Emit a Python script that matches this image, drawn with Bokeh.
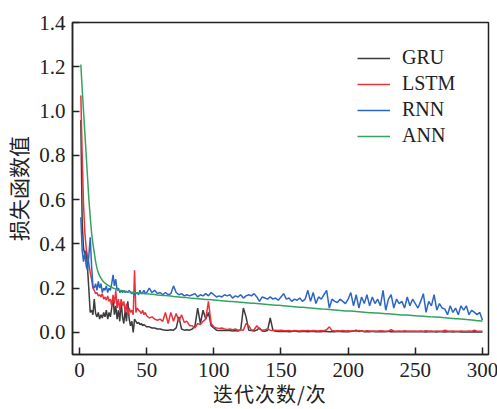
from bokeh.plotting import figure
from bokeh.models import Legend, LegendItem, FixedTicker, PrintfTickFormatter, Range1d, Div
from bokeh.layouts import column
from bokeh.embed import file_html
from bokeh.resources import INLINE

# iterations: every step for 1..50, every second step for 52..300
X_EARLY = list(range(1, 51))
X_LATE = list(range(52, 301, 2))
X = X_EARLY + X_LATE

GRU = [
    0.96, 0.50, 0.38, 0.35, 0.37, 0.29, 0.19, 0.09, 0.10, 0.08, 0.15, 0.085, 0.07, 0.09, 0.06, 0.08, 0.065, 0.09, 0.07, 0.10, 0.06, 0.09, 0.07, 0.11, 0.16,
    0.08, 0.12, 0.06, 0.10, 0.05, 0.14, 0.07, 0.04, 0.10, 0.05, 0.14, 0.06, 0.03, 0.05, 0.00, 0.06, 0.05, 0.04, 0.045, 0.035, 0.04, 0.03, 0.035, 0.03, 0.025,
    0.025, 0.02, 0.02, 0.015, 0.015, 0.012, 0.01, 0.01, 0.012, 0.01, 0.02, 0.07, 0.015, 0.01, 0.012, 0.01, 0.015, 0.03, 0.11, 0.04, 0.10, 0.06, 0.09, 0.03, 0.02,
    0.01, 0.008, 0.01, 0.008, 0.01, 0.008, 0.006, 0.008, 0.006, 0.01, 0.11, 0.07, 0.01, 0.008, 0.006, 0.01, 0.02, 0.006, 0.005, 0.008, 0.065, 0.01, 0.005, 0.004, 0.005,
    0.004, 0.005, 0.003, 0.004, 0.006, 0.004, 0.003, 0.005, 0.004, 0.003, 0.004, 0.005, 0.003, 0.004, 0.003, 0.005, 0.004, 0.003, 0.004, 0.003, 0.005, 0.004, 0.003, 0.004, 0.003,
    0.004, 0.006, 0.01, 0.004, 0.008, 0.003, 0.004, 0.003, 0.005, 0.003, 0.004, 0.003, 0.004, 0.003, 0.005, 0.003, 0.004, 0.003, 0.004, 0.003, 0.003, 0.004, 0.003, 0.004, 0.003,
    0.003, 0.004, 0.003, 0.002, 0.004, 0.003, 0.003, 0.002, 0.004, 0.003, 0.002, 0.003, 0.004, 0.002, 0.003, 0.003, 0.002, 0.003, 0.002, 0.003, 0.002, 0.003, 0.002, 0.003, 0.002,
]

LSTM = [
    1.07, 0.80, 0.58, 0.45, 0.38, 0.34, 0.31, 0.27, 0.24, 0.20, 0.19, 0.175, 0.18, 0.165, 0.17, 0.16, 0.175, 0.15, 0.16, 0.145, 0.165, 0.14, 0.15, 0.12, 0.17,
    0.13, 0.19, 0.11, 0.15, 0.10, 0.15, 0.12, 0.14, 0.09, 0.13, 0.08, 0.11, 0.09, 0.10, 0.08, 0.28, 0.09, 0.11, 0.10, 0.095, 0.085, 0.10, 0.08, 0.09, 0.075,
    0.065, 0.07, 0.06, 0.055, 0.06, 0.05, 0.09, 0.04, 0.09, 0.05, 0.085, 0.05, 0.08, 0.045, 0.05, 0.03, 0.03, 0.02, 0.04, 0.035, 0.05, 0.06, 0.14, 0.04, 0.025,
    0.02, 0.018, 0.02, 0.015, 0.013, 0.015, 0.012, 0.015, 0.01, 0.012, 0.01, 0.04, 0.03, 0.01, 0.012, 0.03, 0.015, 0.01, 0.012, 0.015, 0.01, 0.008, 0.01, 0.008, 0.01,
    0.008, 0.007, 0.009, 0.006, 0.008, 0.007, 0.006, 0.008, 0.007, 0.009, 0.006, 0.008, 0.007, 0.006, 0.008, 0.007, 0.012, 0.025, 0.008, 0.006, 0.007, 0.006, 0.008, 0.006, 0.007,
    0.006, 0.007, 0.005, 0.008, 0.006, 0.005, 0.007, 0.006, 0.005, 0.006, 0.005, 0.007, 0.006, 0.005, 0.006, 0.012, 0.006, 0.005, 0.006, 0.005, 0.007, 0.005, 0.006, 0.005, 0.006,
    0.005, 0.006, 0.005, 0.007, 0.005, 0.006, 0.005, 0.006, 0.005, 0.005, 0.01, 0.006, 0.005, 0.006, 0.005, 0.005, 0.006, 0.005, 0.005, 0.006, 0.005, 0.01, 0.005, 0.005, 0.005,
]

RNN = [
    0.52, 0.37, 0.32, 0.36, 0.30, 0.28, 0.35, 0.43, 0.30, 0.21, 0.20, 0.22, 0.19, 0.23, 0.20, 0.22, 0.18, 0.20, 0.19, 0.21, 0.18, 0.20, 0.19, 0.22, 0.26,
    0.21, 0.24, 0.19, 0.20, 0.18, 0.19, 0.18, 0.19, 0.18, 0.185, 0.18, 0.19, 0.18, 0.175, 0.18, 0.17, 0.175, 0.18, 0.17, 0.19, 0.175, 0.18, 0.19, 0.175, 0.18,
    0.20, 0.18, 0.19, 0.175, 0.18, 0.17, 0.18, 0.17, 0.175, 0.21, 0.18, 0.17, 0.175, 0.165, 0.17, 0.165, 0.17, 0.175, 0.16, 0.17, 0.165, 0.175, 0.165, 0.18, 0.17,
    0.16, 0.165, 0.16, 0.17, 0.165, 0.17, 0.155, 0.165, 0.16, 0.17, 0.155, 0.165, 0.17, 0.165, 0.175, 0.16, 0.14, 0.16, 0.155, 0.15, 0.16, 0.15, 0.155, 0.145, 0.16,
    0.175, 0.15, 0.155, 0.14, 0.15, 0.145, 0.155, 0.14, 0.15, 0.19, 0.14, 0.18, 0.13, 0.16, 0.15, 0.17, 0.19, 0.11, 0.15, 0.14, 0.135, 0.15, 0.14, 0.13, 0.15,
    0.18, 0.12, 0.17, 0.11, 0.16, 0.13, 0.17, 0.12, 0.16, 0.13, 0.15, 0.12, 0.19, 0.10, 0.15, 0.17, 0.11, 0.15, 0.13, 0.14, 0.11, 0.16, 0.12, 0.15, 0.13,
    0.11, 0.14, 0.175, 0.09, 0.14, 0.12, 0.17, 0.10, 0.13, 0.11, 0.105, 0.08, 0.12, 0.09, 0.11, 0.08, 0.12, 0.10, 0.12, 0.08, 0.10, 0.09, 0.08, 0.09, 0.055,
]

ANN = [
    1.21, 1.10, 1.00, 0.90, 0.80, 0.70, 0.60, 0.52, 0.45, 0.40, 0.36, 0.32, 0.29, 0.27, 0.255, 0.245, 0.235, 0.228, 0.222, 0.218, 0.214, 0.21, 0.207, 0.204, 0.20,
    0.198, 0.196, 0.194, 0.192, 0.19, 0.189, 0.188, 0.187, 0.186, 0.185, 0.184, 0.183, 0.182, 0.181, 0.18, 0.18, 0.179, 0.178, 0.178, 0.177, 0.176, 0.176, 0.175, 0.175, 0.174,
    0.173, 0.172, 0.171, 0.169, 0.168, 0.167, 0.166, 0.165, 0.164, 0.162, 0.161, 0.16, 0.159, 0.158, 0.157, 0.155, 0.154, 0.153, 0.152, 0.151, 0.15, 0.149, 0.148, 0.147, 0.146,
    0.145, 0.144, 0.143, 0.142, 0.141, 0.14, 0.139, 0.138, 0.137, 0.136, 0.135, 0.134, 0.133, 0.132, 0.131, 0.13, 0.129, 0.128, 0.127, 0.126, 0.125, 0.124, 0.123, 0.122, 0.121,
    0.12, 0.119, 0.118, 0.117, 0.116, 0.115, 0.114, 0.113, 0.112, 0.111, 0.11, 0.109, 0.108, 0.107, 0.106, 0.105, 0.104, 0.103, 0.102, 0.101, 0.10, 0.099, 0.098, 0.097, 0.096,
    0.096, 0.095, 0.094, 0.093, 0.092, 0.091, 0.09, 0.089, 0.089, 0.088, 0.087, 0.086, 0.085, 0.084, 0.084, 0.083, 0.082, 0.081, 0.08, 0.079, 0.079, 0.078, 0.077, 0.076, 0.075,
    0.074, 0.074, 0.073, 0.072, 0.071, 0.07, 0.069, 0.069, 0.068, 0.067, 0.066, 0.065, 0.064, 0.063, 0.062, 0.061, 0.06, 0.059, 0.058, 0.057, 0.056, 0.055, 0.053, 0.052, 0.05,
]

SERIES = ["GRU", "LSTM", "RNN", "ANN"]
COLORS = ["#3c3c3c", "#e8323c", "#2b66c3", "#35a35f"]
X_TICKS = [0, 50, 100, 150, 200, 250, 300]
Y_TICKS = [0.0, 0.2, 0.4, 0.6, 0.8, 1.0, 1.2, 1.4]
X_LABEL = "迭代次数/次"
Y_LABEL = "损失函数值"

for s in (GRU, LSTM, RNN, ANN):
    assert len(s) == len(X), len(s)

NUM_FONT = "Liberation Serif"
CJK_FONT = "Noto Sans CJK SC"
TXT = "#222222"

p = figure(
    output_backend="svg", toolbar_location=None,
    frame_width=416, frame_height=332,
    min_border_left=70, min_border_right=11, min_border_top=22, min_border_bottom=32,
    x_range=Range1d(-5.2, 304.5), y_range=Range1d(-0.1, 1.4),
)
p.grid.visible = False
p.outline_line_color = TXT
p.outline_line_width = 1.5
p.background_fill_color = "white"
p.border_fill_color = "white"

for ax in (p.xaxis[0], p.yaxis[0]):
    ax.axis_line_color = TXT
    ax.axis_line_width = 1.5
    ax.major_tick_line_color = TXT
    ax.major_tick_line_width = 1.5
    ax.major_tick_in = 7
    ax.major_tick_out = 0
    ax.minor_tick_line_color = None
    ax.major_label_text_font = NUM_FONT
    ax.major_label_text_font_size = "21px"
    ax.major_label_text_color = TXT
    ax.axis_label_text_font = CJK_FONT
    ax.axis_label_text_font_size = "21px"
    ax.axis_label_text_font_style = "normal"
    ax.axis_label_text_color = TXT

p.xaxis[0].ticker = FixedTicker(ticks=X_TICKS)
p.yaxis[0].ticker = FixedTicker(ticks=Y_TICKS)
p.yaxis[0].formatter = PrintfTickFormatter(format="%.1f")
p.xaxis[0].major_label_standoff = 8
p.yaxis[0].major_label_standoff = 7
p.yaxis[0].axis_label = Y_LABEL
p.yaxis[0].axis_label_standoff = 3

items = []
for name, ys, c in zip(SERIES, [GRU, LSTM, RNN, ANN], COLORS):
    r = p.line(X, ys, line_color=c, line_width=1.5)
    items.append(LegendItem(label=name, renderers=[r]))

legend = Legend(
    items=items, location=(285, 207),
    border_line_color=None, background_fill_alpha=0,
    padding=0, margin=0, spacing=3,
    glyph_width=33, glyph_height=20, label_height=20, label_standoff=12,
    label_text_font=NUM_FONT, label_text_font_size="20px", label_text_color=TXT,
)
p.add_layout(legend, "center")

# x-axis title under the figure
xtitle = Div(
    text=('<div style="font-family:\'Noto Sans CJK SC\'; font-size:20px; color:#222222; '
          'line-height:16px; letter-spacing:1px; white-space:nowrap; margin:0; padding:0">'
          + X_LABEL + '</div>'),
    width=160, height=22, margin=(0, 0, 0, 213),
)

layout = column(p, xtitle, spacing=0)
open("out.html", "w").write(file_html(layout, INLINE))
